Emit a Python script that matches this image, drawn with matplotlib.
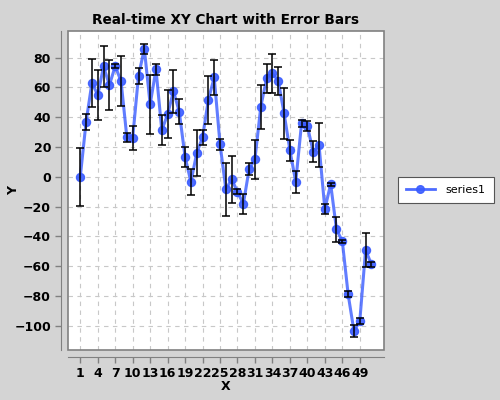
import matplotlib
matplotlib.use("Agg")
import matplotlib.pyplot as plt
from matplotlib.patches import Rectangle
from matplotlib.lines import Line2D

x = list(range(1, 52))
y = [0, 36.9, 63.1, 54.8, 74.1, 61.5, 74.3, 64.2, 26.4, 26.2,
     67.8, 85.9, 48.7, 72.1, 31.3, 41.9, 57.5, 43.6, 13.2, -3.4,
     15.9, 26.6, 51.7, 66.7, 21.9, -8.3, -1.8, -10.0, -18.3, 5.2,
     11.9, 47.0, 66.0, 69.4, 64.4, 42.6, 17.9, -3.4, 35.8, 34.0,
     16.8, 21.3, -21.7, -4.9, -35.3, -43.2, -78.9, -103.6, -97.0, -49.2,
     -58.8]
err = [19.5, 5.4, 16.3, 16.8, 14.0, 16.7, 1.5, 17.0, 2.8, 8.0,
       5.5, 3.2, 19.8, 3.7, 10.0, 16.2, 14.5, 8.4, 6.7, 8.6,
       15.7, 5.0, 16.2, 12.0, 3.7, 17.8, 15.6, 1.7, 6.8, 4.0,
       13.1, 14.8, 9.7, 13.0, 9.2, 17.3, 7.0, 7.3, 2.6, 3.4,
       6.9, 14.7, 3.4, 1.0, 8.6, 1.0, 1.9, 4.1, 2.0, 11.4,
       1.5]
xticks = list(range(1, 50, 3))
yticks = list(range(-100, 81, 20))

bg = '#d4d4d4'
blue = '#3a5cff'
fig = plt.figure(figsize=(5, 4), dpi=100, facecolor=bg)
ax = fig.add_axes([0.1354, 0.125, 0.6326, 0.798])
ax.set_facecolor('white')

ax.plot(x, y, '-', color=blue, lw=2.2, alpha=0.8, zorder=3)
ax.plot(x, y, 'o', color=blue, ms=5.8, alpha=0.9, zorder=4)
ax.errorbar(x, y, yerr=err, fmt='none', ecolor='black', elinewidth=1.1,
            capsize=3, capthick=1.1, zorder=5)
h = Line2D([], [], color=blue, lw=2.0, marker='o', ms=5.5, alpha=0.9)

ax.set_xlim(-1.16, 53.16)
ax.set_ylim(-116.3, 98)
ax.set_xticks(xticks)
ax.set_yticks(yticks)
ax.grid(True, color='#c8c8c8', linestyle=(0, (4, 4)), linewidth=0.8)
ax.set_axisbelow(True)

for s in ['top', 'right']:
    ax.spines[s].set_visible(False)
ax.spines['left'].set_position(('outward', 4.5))
ax.spines['bottom'].set_position(('outward', 5))
ax.spines['left'].set_color('#808080')
ax.spines['bottom'].set_color('#808080')
ax.add_patch(Rectangle((0, 0), 1, 1, transform=ax.transAxes, fill=False,
                       edgecolor='#808080', lw=1.2, clip_on=False, zorder=6))

ax.tick_params(axis='both', colors='#808080', labelcolor='black', length=4,
               width=1, labelsize=9)
for lab in ax.get_xticklabels() + ax.get_yticklabels():
    lab.set_fontweight('bold')

fig.text(0.452, 0.035, 'X', fontsize=9, fontweight='bold', ha='center', va='center')
fig.text(0.027, 0.523, 'Y', fontsize=9, fontweight='bold', ha='center',
         va='center', rotation=90)
ax.set_title('Real-time XY Chart with Error Bars', fontsize=9.8,
             fontweight='bold', pad=5)

leg = fig.legend([h], ['series1'], loc='center left',
                 bbox_to_anchor=(0.796, 0.525), borderaxespad=0,
                 fontsize=8, frameon=True,
                 fancybox=False, edgecolor='#555555', facecolor='white',
                 framealpha=1, handlelength=2.6, handletextpad=1.0,
                 borderpad=0.7)
leg.get_frame().set_linewidth(0.8)

fig.savefig('out.png', dpi=100, facecolor=bg)
